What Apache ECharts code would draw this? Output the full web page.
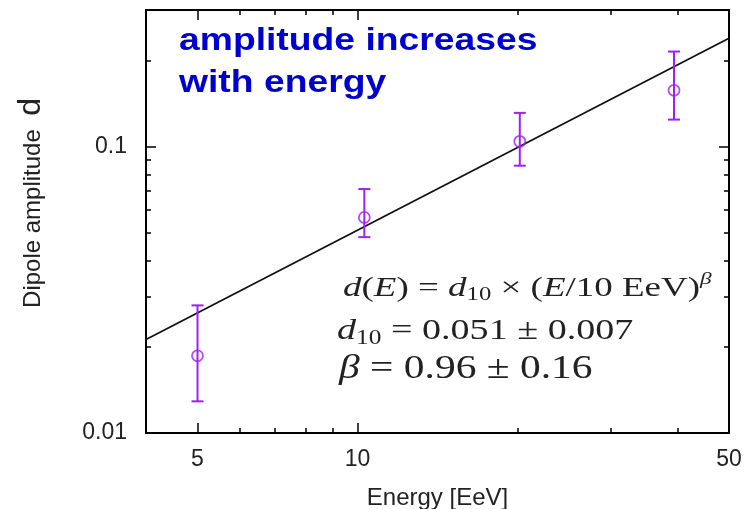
<!DOCTYPE html>
<html>
<head>
<meta charset="utf-8">
<script src="https://cdn.jsdelivr.net/npm/echarts@6/dist/echarts.min.js"></script>
<style>
  html, body { margin: 0; padding: 0; background: #fff; }
  #chart { width: 751px; height: 509px; }
</style>
</head>
<body>
<div id="chart"></div>
<script>
// Dipole amplitude vs. energy, with the power-law fit drawn on log-log axes.
const energy = [5.0, 10.3, 20.2, 39.4];            // EeV
const amplitude = [0.0186, 0.0566, 0.1043, 0.1573];
const amplitudeLow = [0.0129, 0.0483, 0.0858, 0.1243];
const amplitudeHigh = [0.0279, 0.0711, 0.1312, 0.2148];

// Fit d(E) = d10 * (E / 10 EeV)^beta, d10 = 0.051, beta = 0.96, at the ends of the range
const fitEnergy = [4, 50];
const fitAmplitude = [0.0212, 0.239];

const xRange = [4, 50];
const yRange = [0.01, 0.3];
const xMajorTicks = [5, 10, 50];
const xMinorTicks = [6, 7, 8, 9, 20, 30, 40];
const yMajorTicks = [0.01, 0.1];
const yMinorTicks = [0.02, 0.03, 0.04, 0.05, 0.06, 0.07, 0.08, 0.09, 0.2];

const lg = Math.log10;
const PURPLE = '#a020f0';
const INK = '#222';
const SANS = '"Liberation Sans", Arial, sans-serif';
const SERIF = '"Liberation Serif", "Times New Roman", serif';

const fmtTick = v => String(parseFloat(Math.pow(10, v).toPrecision(3)));

function logAxis(position, range, ticks, len, labelCfg) {
  const vals = ticks.map(lg);
  const ax = {
    type: 'value',
    position: position,
    min: lg(range[0]),
    max: lg(range[1]),
    scale: true,
    axisLine: { show: false, onZero: false },
    splitLine: { show: false },
    axisTick: {
      show: true, inside: true, length: len, customValues: vals,
      lineStyle: { color: '#000', width: 1.5 }
    },
    axisLabel: { show: false }
  };
  if (labelCfg) {
    ax.axisLabel = Object.assign({
      show: true, customValues: vals, formatter: fmtTick,
      color: INK, fontFamily: SANS, fontSize: 23
    }, labelCfg);
  }
  return ax;
}

const chart = echarts.init(document.getElementById('chart'), null, { renderer: 'canvas' });

chart.setOption({
  animation: false,
  backgroundColor: '#fff',
  grid: {
    left: 146, right: 22, top: 10, bottom: 76,
    containLabel: false,
    outerBoundsMode: 'none',
    show: true, borderColor: '#000', borderWidth: 2, backgroundColor: 'transparent'
  },
  xAxis: [
    Object.assign(logAxis('bottom', xRange, xMajorTicks, 10, { margin: 15 }), {
      name: 'Energy [EeV]', nameLocation: 'middle', nameGap: 53,
      nameTextStyle: { color: INK, fontFamily: SANS, fontSize: 24 }
    }),
    logAxis('bottom', xRange, xMinorTicks, 5),
    logAxis('top', xRange, xMajorTicks, 10),
    logAxis('top', xRange, xMinorTicks, 5)
  ],
  yAxis: [
    logAxis('left', yRange, yMajorTicks, 10, { margin: 19 }),
    logAxis('left', yRange, yMinorTicks, 5),
    logAxis('right', yRange, yMajorTicks, 10),
    logAxis('right', yRange, yMinorTicks, 5)
  ],
  series: [
    {
      name: 'fit',
      type: 'line',
      xAxisIndex: 0, yAxisIndex: 0,
      data: fitEnergy.map((e, i) => [lg(e), lg(fitAmplitude[i])]),
      showSymbol: false,
      lineStyle: { color: '#111', width: 1.8 },
      z: 2
    },
    {
      name: 'error',
      type: 'custom',
      xAxisIndex: 0, yAxisIndex: 0,
      data: energy.map((e, i) => [lg(e), lg(amplitudeLow[i]), lg(amplitudeHigh[i])]),
      encode: { x: 0, y: [1, 2] },
      renderItem: function (params, api) {
        const x = api.value(0);
        const lo = api.coord([x, api.value(1)]);
        const hi = api.coord([x, api.value(2)]);
        const cap = 6;
        const st = { stroke: PURPLE, lineWidth: 2 };
        return {
          type: 'group',
          children: [
            { type: 'line', shape: { x1: lo[0], y1: lo[1], x2: hi[0], y2: hi[1] }, style: st },
            { type: 'line', shape: { x1: lo[0] - cap, y1: lo[1], x2: lo[0] + cap, y2: lo[1] }, style: st },
            { type: 'line', shape: { x1: hi[0] - cap, y1: hi[1], x2: hi[0] + cap, y2: hi[1] }, style: st }
          ]
        };
      },
      z: 3
    },
    {
      name: 'data',
      type: 'scatter',
      xAxisIndex: 0, yAxisIndex: 0,
      data: energy.map((e, i) => [lg(e), lg(amplitude[i])]),
      symbol: 'circle',
      symbolSize: 11,
      itemStyle: { color: 'rgba(0,0,0,0)', borderColor: PURPLE, borderWidth: 1.8 },
      z: 4
    }
  ],
  graphic: [
    {
      type: 'text',
      left: 179, top: 20,
      scaleX: 1.165,
      style: {
        text: 'amplitude increases\nwith energy',
        fill: '#0000cc',
        font: 'bold 32px ' + SANS,
        lineHeight: 42
      }
    },
    {
      type: 'text',
      x: 30, y: 203,
      rotation: Math.PI / 2,
      style: {
        text: '{a|Dipole amplitude  }{b|d}',
        align: 'center', verticalAlign: 'middle',
        rich: {
          a: { fontFamily: SANS, fontSize: 24, fill: INK, lineHeight: 34, verticalAlign: 'bottom', padding: [0, 0, 2, 0] },
          b: { fontFamily: SANS, fontSize: 32, fill: INK, lineHeight: 34, verticalAlign: 'bottom' }
        }
      }
    },
    {
      type: 'text',
      x: 343, y: 289,
      scaleX: 1.37,
      style: {
        text: '{i|d}{r|(}{i|E}{r|) = }{i|d}{s|10}{r| × (}{i|E}{r|/10 EeV)}{p|β}',
        align: 'left', verticalAlign: 'middle',
        rich: {
          i: { fontFamily: SERIF, fontStyle: 'italic', fontSize: 27, fill: INK, lineHeight: 34 },
          r: { fontFamily: SERIF, fontSize: 27, fill: INK, lineHeight: 34 },
          s: { fontFamily: SERIF, fontSize: 18, fill: INK, lineHeight: 34, padding: [13, 0, 0, 0] },
          p: { fontFamily: SERIF, fontStyle: 'italic', fontSize: 17, fill: INK, lineHeight: 34, padding: [0, 0, 18, 0] }
        }
      }
    },
    {
      type: 'text',
      x: 337, y: 331,
      scaleX: 1.27,
      style: {
        text: '{i|d}{s|10}{r| = 0.051 ± 0.007}',
        align: 'left', verticalAlign: 'middle',
        rich: {
          i: { fontFamily: SERIF, fontStyle: 'italic', fontSize: 30, fill: INK, lineHeight: 38 },
          r: { fontFamily: SERIF, fontSize: 30, fill: INK, lineHeight: 38 },
          s: { fontFamily: SERIF, fontSize: 20, fill: INK, lineHeight: 38, padding: [15, 0, 0, 0] }
        }
      }
    },
    {
      type: 'text',
      x: 339, y: 369,
      scaleX: 1.22,
      style: {
        text: '{i|β}{r| = 0.96 ± 0.16}',
        align: 'left', verticalAlign: 'middle',
        rich: {
          i: { fontFamily: SERIF, fontStyle: 'italic', fontSize: 34, fill: INK, lineHeight: 42 },
          r: { fontFamily: SERIF, fontSize: 34, fill: INK, lineHeight: 42 }
        }
      }
    }
  ]
});
</script>
</body>
</html>
